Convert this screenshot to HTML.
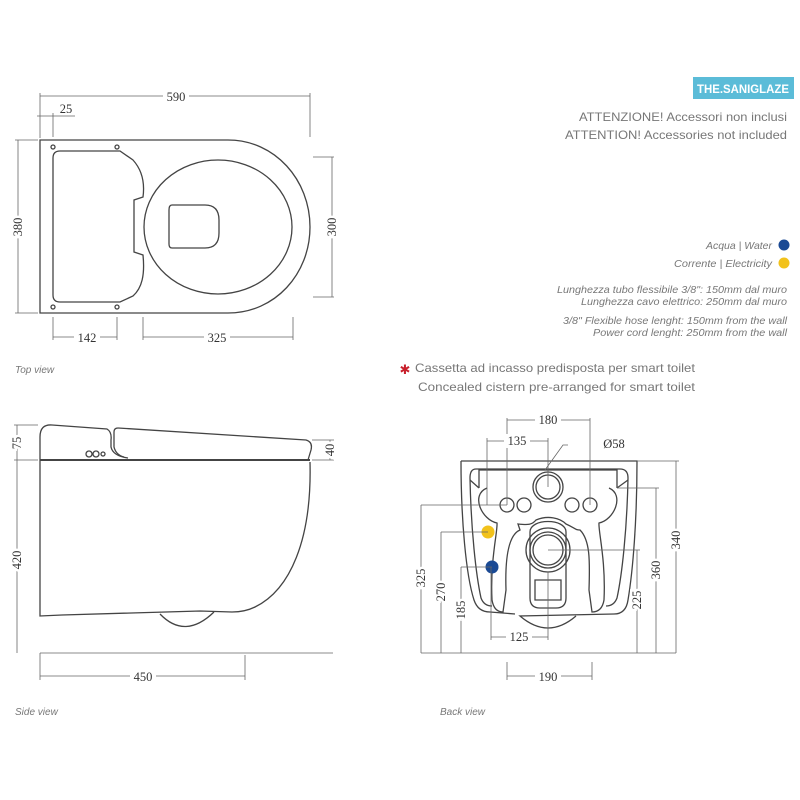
<!DOCTYPE html>
<html><head><meta charset="utf-8"><style>html,body{margin:0;padding:0;background:#fff}svg{display:block}</style></head>
<body>
<svg width="800" height="800" viewBox="0 0 800 800" xmlns="http://www.w3.org/2000/svg">
<rect width="800" height="800" fill="#fff"/>
<g fill="none" stroke="#444" stroke-width="1.3">
 <!-- top view -->
 <path d="M40,140 H228 C275,140 310,180 310,227 C310,274 275,313 228,313 H40 Z"/>
 <path d="M60,151 H120 L133,160 C142,170 145,182 143,197 L134,200 V252 L143,255 C145,275 142,288 133,296 L120,302 H60 Q53,302 53,295 V158 Q53,151 60,151 Z"/>
 <ellipse cx="218" cy="227" rx="74" ry="67"/>
 <path d="M172,205 H205 Q219,205 219,220 V233 Q219,248 205,248 H172 Q169,248 169,244 V210 Q169,205 172,205 Z"/>
 <circle cx="53" cy="147" r="2"/><circle cx="117" cy="147" r="2"/><circle cx="53" cy="307" r="2"/><circle cx="117" cy="307" r="2"/>
 <!-- side view -->
 <path d="M40,460 V437 Q40,424 52,425 L107,429 Q112,432 111,440 V447 Q113,456 128,458"/>
 <path d="M118,428 L306,440 Q313,442 311,450 L308,460"/>
 <path d="M114,432 Q114,428 118,428 M114,432 V447 Q116,455 124,457"/>
 <line x1="40" y1="460" x2="310" y2="460" stroke-width="2"/>
 <path d="M40,460 V616 L62,615 L200,611 L232,612 Q245,612 255,607 C290,590 312,540 310,462"/>
 <path d="M160,614 Q185,640 214,612"/>
 <circle cx="89" cy="454" r="3"/><circle cx="96" cy="454" r="3"/><circle cx="103" cy="454" r="2"/>
 <!-- back view -->
 <path d="M461,461 H637 C637,520 633,570 628,600 Q626,614 614,614 L520,616 Q548,640 576,616 M461,461 C461,520 466,575 474,600 Q478,612 490,612 L515,614"/>
 <path d="M476,469 H620 Q628,469 628,478 C627,530 622,575 617,598 Q614,606 606,606 M476,469 Q470,469 470,478 C471,530 476,575 481,598 Q484,606 492,606"/>
 <path d="M479,488 V470 H617 V488 M470,480 L479,488 M628,480 L617,488"/>
 <path d="M487,488 C470,495 482,520 497,523 C498,530 490,560 492,600 Q494,612 503,612 L506,590 C505,560 508,535 520,530 L518,524 C528,525 532,525 536,520 C548,515 560,518 566,524 C575,528 575,530 580,530 C590,540 590,560 589,590 L592,612 Q602,612 604,600 C606,560 598,530 599,523 C614,520 625,495 609,488"/>
 <path d="M530,532 C530,518 566,518 566,532 V598 Q566,608 556,608 H540 Q530,608 530,598 Z"/>
 <path d="M535,580 H561 V600 H535 Z"/>
 <circle cx="548" cy="487" r="15"/><circle cx="548" cy="487" r="12"/>
 <circle cx="548" cy="550" r="22"/><circle cx="548" cy="550" r="18"/><circle cx="548" cy="550" r="15"/>
 <circle cx="507" cy="505" r="7"/><circle cx="524" cy="505" r="7"/><circle cx="572" cy="505" r="7"/><circle cx="590" cy="505" r="7"/>
</g>
<circle cx="488" cy="532" r="6.5" fill="#f2c21b"/>
<circle cx="492" cy="567" r="6.5" fill="#1b4a94"/>
<!-- dimension lines -->
<g stroke="#666" stroke-width="0.8" fill="none">
 <path d="M40,96 H310 M40,93 V138 M310,93 V137 M37,116 H75 M53,113 V137 M18,140 V313 M15,140 H38 M15,313 H38 M332,157 V297 M313,157 H334 M313,297 H334 M53,337 H117 M53,317 V340 M117,317 V340 M143,337 H293 M143,317 V340 M293,317 V340"/>
 <path d="M17,425 V653 M14,425 H38 M14,460 H38 M40,653 H333 M40,653 V680 M40,676 H245 M245,655 V680 M330,440 V460 M312,440 H334 M312,460 H334"/>
 <path d="M421,653 H676 M507,420 H590 M507,418 V505 M590,418 V505 M487,441 H548 M487,438 V505 M548,438 V487 M545,470 L563,445 H568 M637,461 H679 M676,461 V653 M617,488 H659 M656,488 V653 M548,550 H640 M637,550 V653 M421,505 H507 M421,505 V653 M441,532 H488 M441,532 V653 M461,567 H492 M461,567 V653 M491,567 V640 M491,637 H548 M548,572 V640 M507,662 V680 M592,662 V680 M507,676 H592"/>
</g>
<g font-family="Liberation Serif, serif" font-size="12.5" fill="#333" text-anchor="middle">
 <g fill="#fff" stroke="none"><rect x="163" y="89" width="26" height="14"/><rect x="74" y="330" width="26" height="14"/><rect x="204" y="330" width="26" height="14"/><rect x="130" y="669" width="26" height="14"/><rect x="535" y="413" width="26" height="14"/><rect x="504" y="434" width="26" height="14"/><rect x="506" y="630" width="26" height="14"/><rect x="535" y="669" width="26" height="14"/></g>
 <text x="176" y="101">590</text><text x="66" y="113">25</text>
 <text x="87" y="342">142</text><text x="217" y="342">325</text>
 <text x="143" y="681">450</text>
 <text x="548" y="424">180</text><text x="517" y="445">135</text>
 <text x="519" y="641">125</text><text x="548" y="681">190</text>
 <text x="614" y="448">Ø58</text>
 <text transform="translate(22,227) rotate(-90)" fill="#333" style="paint-order:stroke" stroke="#fff" stroke-width="5">380</text>
 <text transform="translate(336,227) rotate(-90)" style="paint-order:stroke" stroke="#fff" stroke-width="5">300</text>
 <text transform="translate(21,443) rotate(-90)" style="paint-order:stroke" stroke="#fff" stroke-width="5">75</text>
 <text transform="translate(21,560) rotate(-90)" style="paint-order:stroke" stroke="#fff" stroke-width="5">420</text>
 <text transform="translate(334,450) rotate(-90)" style="paint-order:stroke" stroke="#fff" stroke-width="5">40</text>
 <text transform="translate(425,578) rotate(-90)" style="paint-order:stroke" stroke="#fff" stroke-width="5">325</text>
 <text transform="translate(445,592) rotate(-90)" style="paint-order:stroke" stroke="#fff" stroke-width="5">270</text>
 <text transform="translate(465,610) rotate(-90)" style="paint-order:stroke" stroke="#fff" stroke-width="5">185</text>
 <text transform="translate(680,540) rotate(-90)" style="paint-order:stroke" stroke="#fff" stroke-width="5">340</text>
 <text transform="translate(660,570) rotate(-90)" style="paint-order:stroke" stroke="#fff" stroke-width="5">360</text>
 <text transform="translate(641,600) rotate(-90)" style="paint-order:stroke" stroke="#fff" stroke-width="5">225</text>
</g>
<g font-family="Liberation Sans, sans-serif" fill="#777">
 <text x="15" y="373" font-size="10" font-style="italic">Top view</text>
 <text x="15" y="715" font-size="10" font-style="italic">Side view</text>
 <text x="440" y="715" font-size="10" font-style="italic">Back view</text>
 <rect x="693" y="77" width="101" height="22" fill="#5bbcd8"/>
 <text x="743" y="93" font-size="11.5" font-weight="bold" fill="#fff" text-anchor="middle" textLength="92" lengthAdjust="spacingAndGlyphs">THE.SANIGLAZE</text>
 <g text-anchor="end" font-size="12">
  <text x="787" y="121" textLength="208" lengthAdjust="spacingAndGlyphs">ATTENZIONE! Accessori non inclusi</text>
  <text x="787" y="139" textLength="222" lengthAdjust="spacingAndGlyphs">ATTENTION! Accessories not included</text>
 </g>
 <g text-anchor="end" font-size="10.5" font-style="italic">
  <text x="772" y="249" textLength="66" lengthAdjust="spacingAndGlyphs">Acqua | Water</text>
  <text x="772" y="267" textLength="98" lengthAdjust="spacingAndGlyphs">Corrente | Electricity</text>
  <text x="787" y="293" textLength="230" lengthAdjust="spacingAndGlyphs">Lunghezza tubo flessibile 3/8": 150mm dal muro</text>
  <text x="787" y="305" textLength="206" lengthAdjust="spacingAndGlyphs">Lunghezza cavo elettrico: 250mm dal muro</text>
  <text x="787" y="324" textLength="224" lengthAdjust="spacingAndGlyphs">3/8" Flexible hose lenght: 150mm from the wall</text>
  <text x="787" y="336" textLength="194" lengthAdjust="spacingAndGlyphs">Power cord lenght: 250mm from the wall</text>
 </g>
 <circle cx="784" cy="245" r="5.5" fill="#1b4a94"/>
 <circle cx="784" cy="263" r="5.5" fill="#f2c21b"/>
 <text x="405" y="374" font-size="13" fill="#c8202c" text-anchor="middle" font-family="DejaVu Sans, sans-serif">✱</text>
 <g font-size="12">
  <text x="415" y="372" textLength="280" lengthAdjust="spacingAndGlyphs">Cassetta ad incasso predisposta per smart toilet</text>
  <text x="418" y="391" textLength="277" lengthAdjust="spacingAndGlyphs">Concealed cistern pre-arranged for smart toilet</text>
 </g>
</g>
</svg>
</body></html>
